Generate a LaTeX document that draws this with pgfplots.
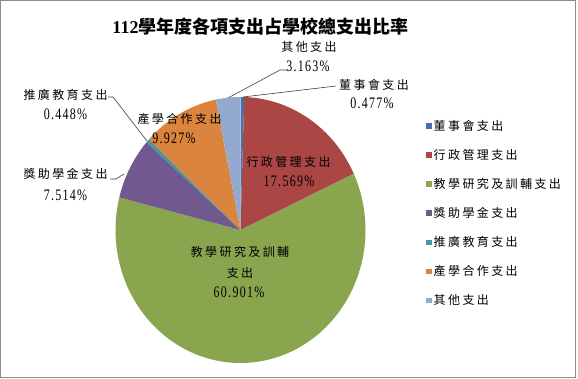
\documentclass[border=0pt]{standalone}
\usepackage{fontspec}
\usepackage{pgfplots}
\pgfplotsset{compat=1.18}
\setmainfont{Liberation Serif}
\newfontfamily\cjk{Noto Sans CJK TC}[LetterSpace=20]
\newfontfamily\cjkt{Noto Sans CJK TC}
\newfontfamily\num{Liberation Serif}[FakeStretch=0.75, LetterSpace=8]
\definecolor{cA}{HTML}{4572A7}
\definecolor{cB}{HTML}{AA4643}
\definecolor{cC}{HTML}{89A54E}
\definecolor{cD}{HTML}{71588F}
\definecolor{cE}{HTML}{4198AF}
\definecolor{cF}{HTML}{DB843D}
\definecolor{cG}{HTML}{93A9CF}
\definecolor{frame}{RGB}{140,140,140}
% percentages
\def\vA{0.477}
\def\vB{17.569}
\def\vC{60.901}
\def\vD{7.514}
\def\vE{0.448}
\def\vF{9.927}
\def\vG{3.163}
\pgfmathsetmacro\aA{90}
\pgfmathsetmacro\aB{\aA-3.6*\vA}
\pgfmathsetmacro\aC{\aB-3.6*\vB}
\pgfmathsetmacro\aD{\aC-3.6*\vC}
\pgfmathsetmacro\aE{\aD-3.6*\vD}
\pgfmathsetmacro\aF{\aE-3.6*\vE}
\pgfmathsetmacro\aG{\aF-3.6*\vF}
\pgfmathsetmacro\aH{\aG-3.6*\vG}
\newcommand\lab[1]{\cjk\fontsize{12}{14}\selectfont #1}
\newcommand\nm[1]{\num\fontsize{16}{16}\selectfont #1}
\begin{document}
\begin{tikzpicture}
\useasboundingbox (0,0) rectangle (578pt,378pt);
\fill[white] (0,0) rectangle (578pt,378pt);
\draw[line width=1.4pt, frame] (0.7pt,0.7pt) rectangle (575.3pt,377.3pt);
\begin{axis}[at={(240.5pt,148pt)}, anchor=center,
  scale only axis, width=250pt, height=266pt,
  xmin=-1, xmax=1, ymin=-1, ymax=1, hide axis, clip=false,
  legend style={at={(1.242,0.921)}, anchor=north west, draw=none, fill=none,
    font=\lab{}, row sep=13.4pt, inner sep=0pt, cells={anchor=west}},
  legend image code/.code={\fill[#1] (0pt,-2.75pt) rectangle (5.5pt,2.75pt);},
]
\addplot[fill=cA, draw=none, domain=\aB:\aA, samples=10] ({cos(x)},{sin(x)}) -- (axis cs:0,0) -- cycle;
\addlegendentry{董事會支出}
\addplot[fill=cB, draw=none, domain=\aC:\aB, samples=60] ({cos(x)},{sin(x)}) -- (axis cs:0,0) -- cycle;
\addlegendentry{行政管理支出}
\addplot[fill=cC, draw=none, domain=\aD:\aC, samples=150] ({cos(x)},{sin(x)}) -- (axis cs:0,0) -- cycle;
\addlegendentry{教學研究及訓輔支出}
\addplot[fill=cD, draw=none, domain=\aE:\aD, samples=40] ({cos(x)},{sin(x)}) -- (axis cs:0,0) -- cycle;
\addlegendentry{獎助學金支出}
\addplot[fill=cE, draw=none, domain=\aF:\aE, samples=10] ({cos(x)},{sin(x)}) -- (axis cs:0,0) -- cycle;
\addlegendentry{推廣教育支出}
\addplot[fill=cF, draw=none, domain=\aG:\aF, samples=40] ({cos(x)},{sin(x)}) -- (axis cs:0,0) -- cycle;
\addlegendentry{產學合作支出}
\addplot[fill=cG, draw=none, domain=\aH:\aG, samples=20] ({cos(x)},{sin(x)}) -- (axis cs:0,0) -- cycle;
\addlegendentry{其他支出}
\end{axis}
% title
\node at (260.5pt,351pt) {\bfseries\fontsize{18}{18}\selectfont 112{\cjkt 學年度各項支出占學校總支出比率}};
% leader lines
\begin{scope}[line width=0.6pt, black!75]
\draw (287pt,308pt) -- (280pt,308pt) -- (228pt,280pt);
\draw (336pt,292pt) -- (243pt,281pt);
\draw (108pt,281pt) -- (113pt,281pt) -- (147pt,237pt);
\draw (110pt,199pt) -- (116pt,199pt) -- (124pt,204pt);
\end{scope}
% data labels
\node at (309pt,331pt) {\lab{其他支出}};
\node at (308pt,312pt) {\nm{3.163\%}};
\node at (374pt,293pt) {\lab{董事會支出}};
\node at (372pt,275pt) {\nm{0.477\%}};
\node at (65.5pt,283pt) {\lab{推廣教育支出}};
\node at (65.5pt,264pt) {\nm{0.448\%}};
\node at (65.5pt,204pt) {\lab{獎助學金支出}};
\node at (65.5pt,183pt) {\nm{7.514\%}};
\node at (179.5pt,259pt) {\lab{產學合作支出}};
\node at (174pt,240pt) {\nm{9.927\%}};
\node at (288.5pt,216pt) {\lab{行政管理支出}};
\node at (289pt,197pt) {\nm{17.569\%}};
\node at (240pt,126pt) {\lab{教學研究及訓輔}};
\node at (240pt,105pt) {\lab{支出}};
\node at (239pt,86pt) {\nm{60.901\%}};
\end{tikzpicture}
\end{document}
